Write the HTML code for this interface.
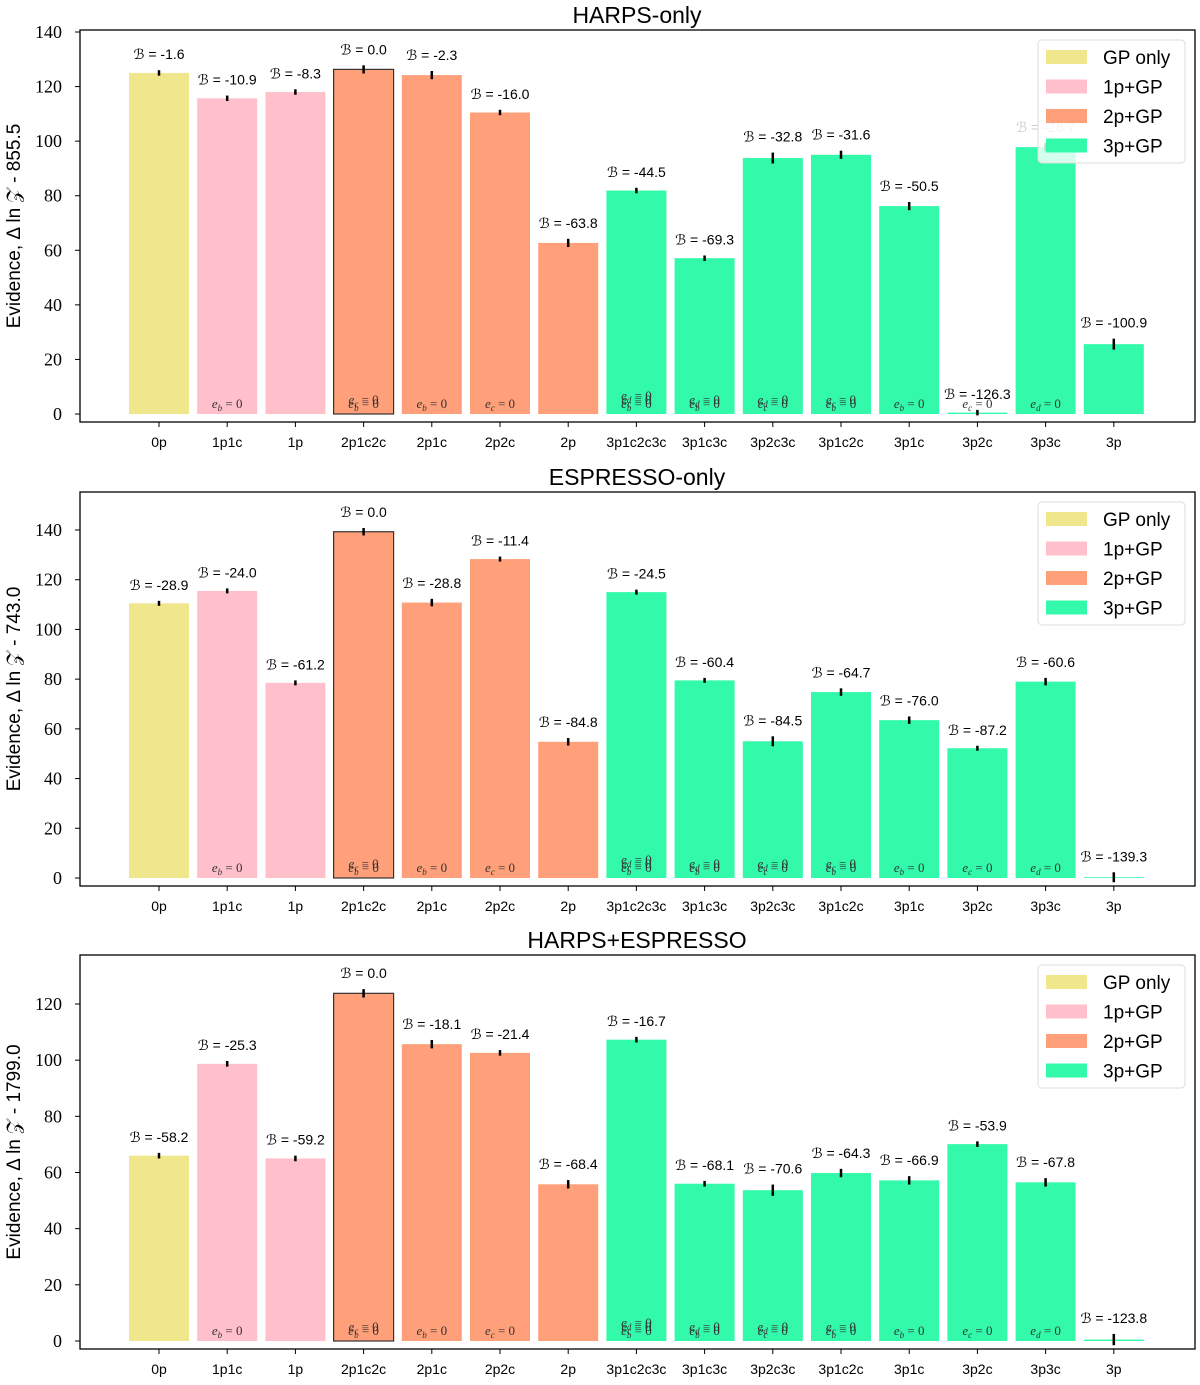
<!DOCTYPE html>
<html><head><meta charset="utf-8"><style>
body{margin:0;background:#fff}
svg{display:block;font-family:"Liberation Sans",sans-serif}
.tk{font-family:"Liberation Serif",serif;font-size:18px}
.bl{font-size:14px}
.an{font-family:"Liberation Serif",serif;font-size:13px;font-style:italic}
</style></head><body>
<svg id="c" width="1200" height="1385" xmlns="http://www.w3.org/2000/svg"></svg>
<script>
const categories=["0p","1p1c","1p","2p1c2c","2p1c","2p2c","2p","3p1c2c3c","3p1c3c","3p2c3c","3p1c2c","3p1c","3p2c","3p3c","3p"];
const groups=[0,1,1,2,2,2,2,3,3,3,3,3,3,3,3];
const annots=[[],["b"],[],["c","b"],["b"],["c"],[],["d","c","b"],["d","b"],["d","c"],["c","b"],["b"],["c"],["d"],[]];
const harpsValues=[125,115.7,118,126.3,124.2,110.5,62.7,81.9,57.1,93.8,95,76.2,0.5,97.8,25.6];
const harpsB=["-1.6","-10.9","-8.3","0.0","-2.3","-16.0","-63.8","-44.5","-69.3","-32.8","-31.6","-50.5","-126.3","-28.7","-100.9"];
const espValues=[110.5,115.5,78.5,139.3,110.8,128.3,54.8,115,79.5,55,74.8,63.5,52.2,79,0.3];
const espB=["-28.9","-24.0","-61.2","0.0","-28.8","-11.4","-84.8","-24.5","-60.4","-84.5","-64.7","-76.0","-87.2","-60.6","-139.3"];
const combValues=[66,98.7,65,123.8,105.7,102.6,55.8,107.3,56,53.7,59.8,57.2,70.1,56.5,0.5];
const combB=["-58.2","-25.3","-59.2","0.0","-18.1","-21.4","-68.4","-16.7","-68.1","-70.6","-64.3","-66.9","-53.9","-67.8","-123.8"];
const errs=[1,1,1,1.5,1.5,1,1.5,1,1,2,1.5,1.5,1,1.5,2];
const yTicks1=[0,20,40,60,80,100,120,140];
const yTicks3=[0,20,40,60,80,100,120];
const legendLabels=["GP only","1p+GP","2p+GP","3p+GP"];
const colors=["#f0e68c","#ffc0cb","#ffa07a","#33f9aa"];
const svg=document.getElementById('c');
const NS="http://www.w3.org/2000/svg";
function mk(t,a,txt){const e=document.createElementNS(NS,t);for(const k in a)e.setAttribute(k,a[k]);if(txt!==undefined)e.textContent=txt;svg.appendChild(e);return e;}
const panels=[
 {title:"HARPS-only",top:30,bot:422,y0:414,ppu:382/140,vals:harpsValues,bs:harpsB,ticks:yTicks1,off:"855.5",n:"harps"},
 {title:"ESPRESSO-only",top:492,bot:886,y0:878,ppu:348/140,vals:espValues,bs:espB,ticks:yTicks1,off:"743.0",n:"espresso"},
 {title:"HARPS+ESPRESSO",top:955,bot:1349,y0:1341,ppu:337/120,vals:combValues,bs:combB,ticks:yTicks3,off:"1799.0",n:"combined"}];
const L=80,R=1195;
function xs(i){return 159+i*68.2;}
panels.forEach(p=>{
 const ys=v=>p.y0-v*p.ppu;
 let e=mk('text',{x:637,y:p.top-7,'text-anchor':'middle','font-size':23},p.title);
 
 e=mk('text',{x:0,y:0,transform:`translate(20,${(p.top+p.bot)/2}) rotate(-90)`,'text-anchor':'middle','font-size':19},`Evidence, Δ ln 𝒵 - ${p.off}`);
 
 p.ticks.forEach(t=>{const y=ys(t);
  mk('line',{x1:75,x2:L,y1:y,y2:y,stroke:'#000'});
  e=mk('text',{x:62,y:y+6,'text-anchor':'end',class:'tk'},t);
  });
 categories.forEach((c,i)=>{
  const x=xs(i),v=p.vals[i],top=ys(v),h=Math.max(p.y0-top,0.8);
  e=mk('rect',{x:x-30,y:p.y0-h,width:60,height:h,fill:colors[groups[i]],stroke:i==3?'#333':'none','stroke-width':1.2});
  
  const ep=errs[i]*p.ppu;
  mk('line',{x1:x,x2:x,y1:top-ep,y2:top+ep,stroke:'#000','stroke-width':2.5});
  const hidden=(p.n=='harps'&&i==13);
  e=mk('text',{x:x,y:top-ep-11,'text-anchor':'middle',class:'bl',fill:hidden?'#ccc':'#000'},`ℬ = ${p.bs[i]}`);
  
  const a=annots[i];const small=v<5;
  a.forEach((s,k)=>{
   const yy=small?p.y0-6:p.y0-6-(a.length-1-k)*4;
   e=mk('text',{x:x,y:yy,'text-anchor':'middle',class:'an',fill:'#333'});
   
   const t1=document.createElementNS(NS,'tspan');t1.textContent='e';e.appendChild(t1);
   const t2=document.createElementNS(NS,'tspan');t2.setAttribute('dy','3');t2.setAttribute('font-size','9');t2.textContent=s;e.appendChild(t2);
   const t3=document.createElementNS(NS,'tspan');t3.setAttribute('dy','-3');t3.setAttribute('font-style','normal');t3.textContent=' = 0';e.appendChild(t3);
  });
  mk('line',{x1:x,x2:x,y1:p.bot,y2:p.bot+5,stroke:'#000'});
  e=mk('text',{x:x,y:p.bot+25,'text-anchor':'middle','font-size':14},c);
  
 });
 mk('rect',{x:L,y:p.top,width:R-L,height:p.bot-p.top,fill:'none',stroke:'#000','stroke-width':1.3});
 const ly=p.top+10;
 e=mk('rect',{x:1038,y:ly,width:147,height:123,rx:4,fill:'rgba(255,255,255,0.8)',stroke:'#ddd'});
 
 legendLabels.forEach((l,k)=>{
  const yy=ly+17+k*29.5;
  mk('rect',{x:1046,y:yy-7,width:41,height:14,fill:colors[k]});
  e=mk('text',{x:1103,y:yy+7,'font-size':19},l);
  
 });
});
</script>
</body></html>
